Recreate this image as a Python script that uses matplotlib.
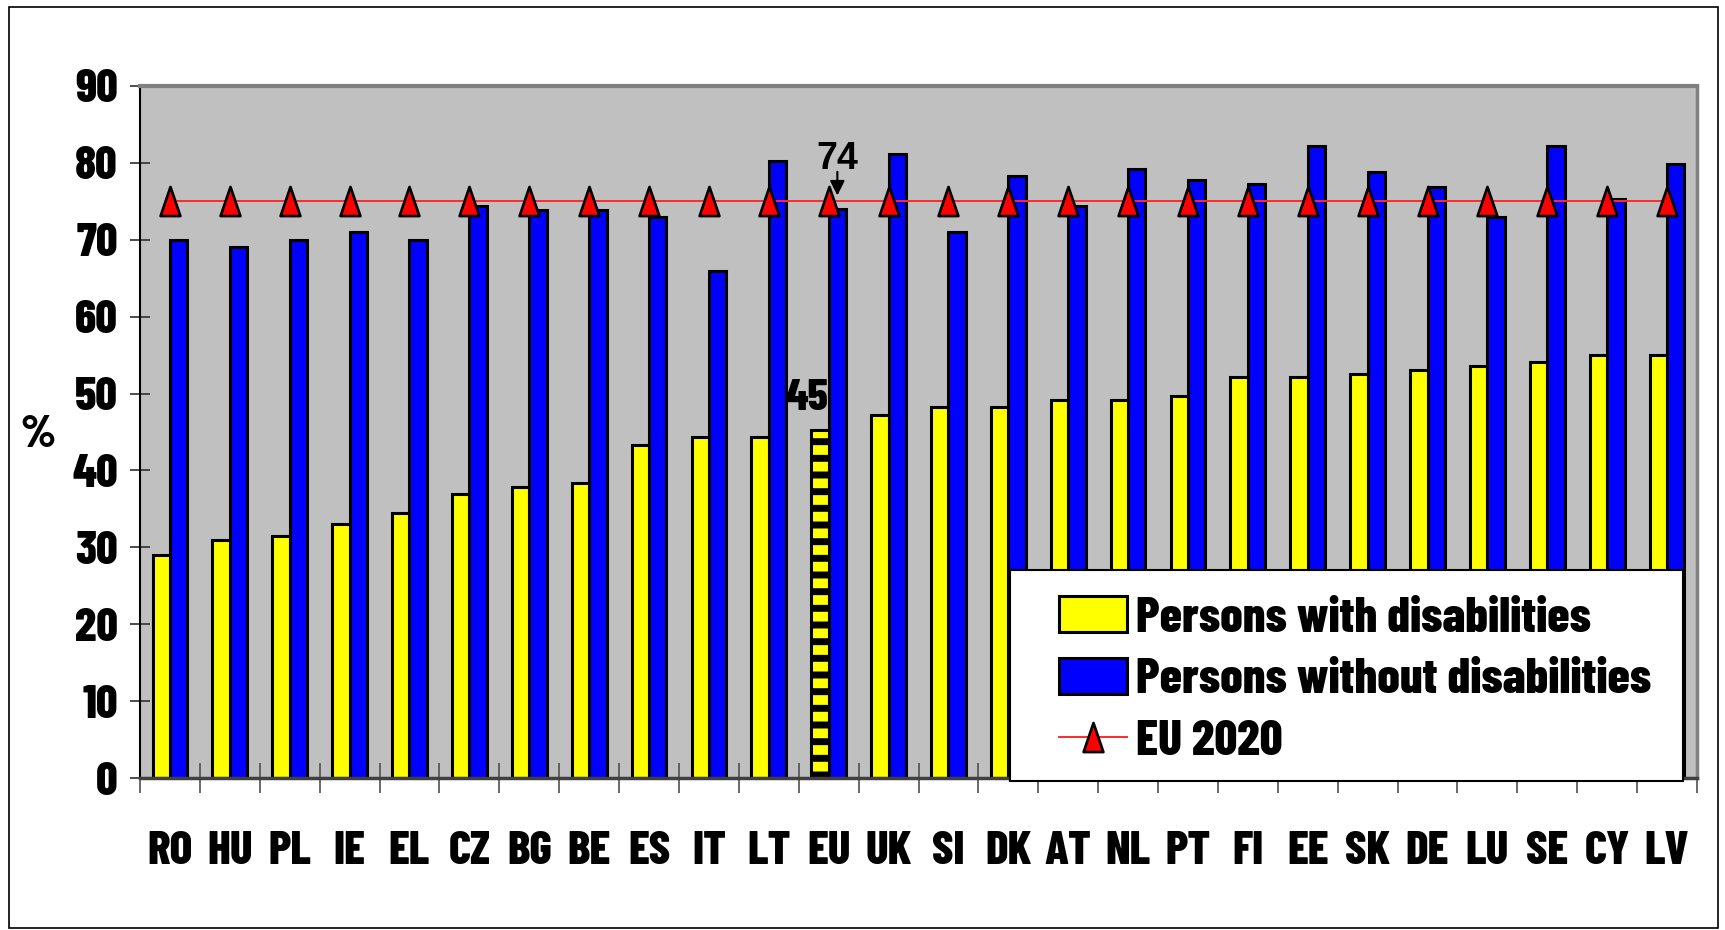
import matplotlib
matplotlib.use("Agg")
import matplotlib.pyplot as plt
from matplotlib.patches import Rectangle, Patch
from matplotlib.lines import Line2D
from matplotlib.path import Path
import numpy as np

countries = ["RO", "HU", "PL", "IE", "EL", "CZ", "BG", "BE", "ES", "IT", "LT", "EU", "UK",
             "SI", "DK", "AT", "NL", "PT", "FI", "EE", "SK", "DE", "LU", "SE", "CY", "LV"]
with_dis = [29.0, 31.0, 31.5, 33.0, 34.5, 36.9, 37.9, 38.4, 43.3, 44.3, 44.3, 45.3, 47.2,
            48.2, 48.2, 49.2, 49.2, 49.7, 52.1, 52.1, 52.6, 53.1, 53.6, 54.1, 55.0, 55.0]
without_dis = [70.0, 69.0, 70.0, 71.0, 70.0, 74.4, 73.9, 73.9, 73.0, 66.0, 80.2, 74.0, 81.2,
               71.0, 78.3, 74.4, 79.2, 77.8, 77.3, 82.2, 78.8, 76.8, 73.0, 82.2, 75.3, 79.8]
eu2020 = [75.0] * len(countries)
yticks = list(range(0, 91, 10))
legend_labels = ["Persons with disabilities", "Persons without disabilities", "EU 2020"]

W, H = 1725, 930
NARROW = ['Barlow Condensed', 'DejaVu Sans']
WT = 800
plt.rcParams['hatch.linewidth'] = 5.0

fig = plt.figure(figsize=(W / 100, H / 100), dpi=100)
fig.patch.set_facecolor('white')

L, R, T, B = 140, 1697, 86, 778
ax = fig.add_axes([L / W, 1 - B / H, (R - L) / W, (B - T) / H])
ax.set_facecolor('#C0C0C0')

x = np.arange(len(countries))
w = 0.29
ybars = ax.bar(x - w / 2, with_dis, w, color='#FFFF00', edgecolor='black', linewidth=2.2, zorder=2)
bbars = ax.bar(x + w / 2, without_dis, w, color='#0000FF', edgecolor='black', linewidth=2.2, zorder=2)
eu_i = countries.index("EU")
ybars[eu_i].set_hatch('-')

tri = Path([(-0.34, -0.5), (0.34, -0.5), (0.0, 0.5), (-0.34, -0.5)],
           [Path.MOVETO, Path.LINETO, Path.LINETO, Path.CLOSEPOLY])
ax.plot(x, eu2020, color='#FF2A2A', lw=1.4, zorder=3)
ax.plot(x, eu2020, ls='none', marker=tri, markersize=21, markerfacecolor='#FF0000',
        markeredgecolor='black', markeredgewidth=1.9, zorder=4)

ax.set_xlim(-0.5, len(countries) - 0.5)
ax.set_ylim(0, 90)
ax.set_yticks(yticks)
ax.set_yticklabels([str(v) for v in yticks], fontfamily=NARROW, fontweight=WT, fontsize=34)
ax.tick_params(axis='y', direction='inout', length=14, width=1.2, color='#303030', pad=9)

ax.set_xticks(np.arange(len(countries) + 1) - 0.5)
ax.set_xticklabels([])
ax.tick_params(axis='x', which='major', direction='inout', length=22, width=1.2, color='#505050')
ax.set_xticks(x, minor=True)
ax.set_xticklabels(countries, minor=True, fontfamily=NARROW, fontweight=WT, fontsize=34)
ax.tick_params(axis='x', which='minor', length=0, pad=38)

ax.spines['top'].set_color('#808080')
ax.spines['top'].set_linewidth(3)
ax.spines['right'].set_color('#808080')
ax.spines['right'].set_linewidth(2.5)
ax.spines['left'].set_color('black')
ax.spines['left'].set_linewidth(1.5)
ax.spines['bottom'].set_color('#404040')
ax.spines['bottom'].set_linewidth(2.5)

xb = eu_i + w / 2
ax.text(xb, 80.5, "74", ha='center', va='center', fontfamily=['Liberation Sans', 'DejaVu Sans'],
        fontweight='bold', fontsize=27, zorder=5)
ax.annotate('', xy=(xb, 75.4), xytext=(xb, 79.2),
            arrowprops=dict(arrowstyle='-|>', color='black', lw=1.5, mutation_scale=22), zorder=5)
ax.text(eu_i - 0.36, 49.4, "45", ha='center', va='center', fontfamily=NARROW,
        fontweight=WT, fontsize=32, zorder=5)

fig.text(38 / W, 1 - 435 / H, "%", ha='center', va='center', fontfamily=NARROW,
         fontweight=WT, fontsize=33)

# legend box
lx0, ly0, lx1, ly1 = 1010, 570, 1683, 781
fig.add_artist(Rectangle((lx0 / W, 1 - ly1 / H), (lx1 - lx0) / W, (ly1 - ly0) / H,
                         transform=fig.transFigure, facecolor='white', edgecolor='black',
                         linewidth=1.5, zorder=4))
handles = [Patch(facecolor='#FFFF00', edgecolor='black', linewidth=2.2),
           Patch(facecolor='#0000FF', edgecolor='black', linewidth=2.2),
           Line2D([0], [0], color='#FF2A2A', lw=1.4, marker=tri, markersize=21,
                  markerfacecolor='#FF0000', markeredgecolor='black', markeredgewidth=1.9)]
leg = fig.legend(handles, legend_labels, loc='upper left',
                 bbox_to_anchor=(1059 / W, 1 - 596 / H), frameon=False, borderpad=0,
                 borderaxespad=0, handlelength=1.35, handleheight=0.74, handletextpad=0.2,
                 labelspacing=0.34, prop=dict(family=NARROW, weight=WT, size=36))
leg.set_zorder(5)

fig.add_artist(Rectangle((9 / W, 1 - 928 / H), (1718 - 9) / W, (928 - 7) / H,
                         transform=fig.transFigure, fill=False, edgecolor='black',
                         linewidth=1.2, zorder=6))

fig.savefig("out.png", dpi=100)
